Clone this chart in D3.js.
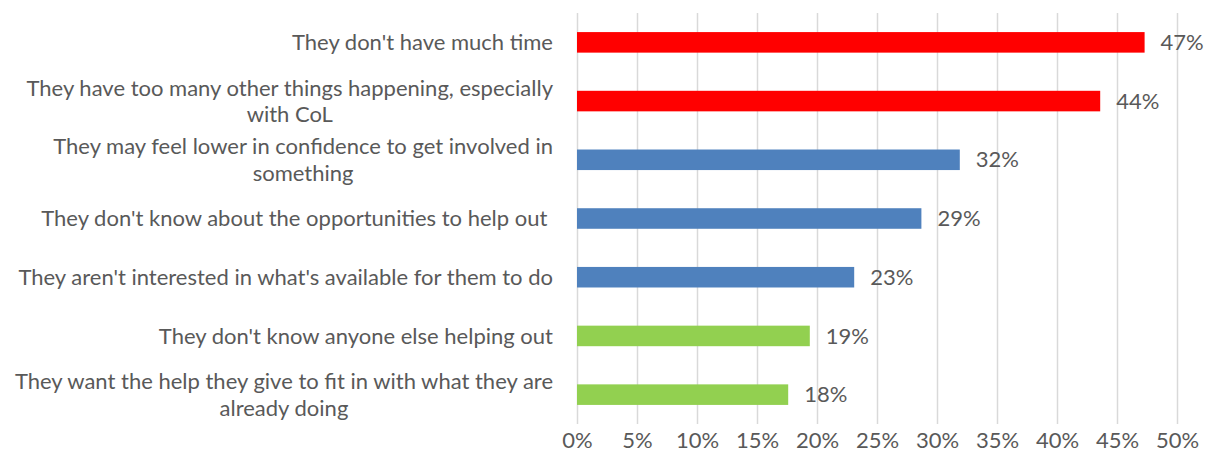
<!DOCTYPE html>
<html>
<head>
<meta charset="utf-8">
<script src="https://cdn.jsdelivr.net/npm/d3@7"></script>
<style>
  html, body { margin: 0; padding: 0; background: #ffffff; }
  svg { display: block; }
  text { font-family: Lato, "Liberation Sans", sans-serif; fill: #595959; }
</style>
</head>
<body>
<svg id="chart" width="1208" height="462"></svg>
<script>
// ---- data ----
const categories = [
  ["They don't have much time"],
  ["They have too many other things happening, especially", "with CoL"],
  ["They may feel lower in confidence to get involved in", "something"],
  ["They don't know about the opportunities to help out "],
  ["They aren't interested in what's available for them to do"],
  ["They don't know anyone else helping out"],
  ["They want the help they give to fit in with what they are", "already doing"]
];
const values = [47.3, 43.6, 31.9, 28.7, 23.1, 19.4, 17.6];
const valueLabels = ["47%", "44%", "32%", "29%", "23%", "19%", "18%"];
const barColors = ["#ff0000", "#ff0000", "#4f81bd", "#4f81bd", "#4f81bd", "#92d050", "#92d050"];
const tickValues = [0, 5, 10, 15, 20, 25, 30, 35, 40, 45, 50];

// ---- layout ----
const svg = d3.select("#chart");
const plot = { left: 577, right: 1177, top: 13, bottom: 424 };
const fontSize = 22;

const x = d3.scaleLinear().domain([0, 50]).range([plot.left, plot.right]);
const y = d3.scaleBand()
  .domain(d3.range(categories.length))
  .range([plot.top, plot.bottom])
  .paddingInner(0.65)
  .paddingOuter(0.325);

// gridlines
svg.append("g")
  .selectAll("line")
  .data(tickValues)
  .join("line")
  .attr("x1", d => Math.round(x(d)) + 0.5)
  .attr("x2", d => Math.round(x(d)) + 0.5)
  .attr("y1", plot.top)
  .attr("y2", plot.bottom)
  .attr("stroke", "#d9d9d9")
  .attr("stroke-width", 1.5);

// x axis labels
const xAxis = d3.axisBottom(x)
  .tickValues(tickValues)
  .tickFormat(d => d + "%")
  .tickSize(0)
  .tickPadding(0);
const gx = svg.append("g")
  .attr("transform", `translate(0, ${plot.bottom + 8})`)
  .call(xAxis);
gx.select(".domain").remove();
gx.selectAll("text")
  .attr("font-size", fontSize)
  .attr("font-family", "Lato, 'Liberation Sans', sans-serif")
  .attr("fill", "#595959")
  .attr("dy", "0.72em");

// bars
svg.append("g")
  .selectAll("rect")
  .data(values)
  .join("rect")
  .attr("x", x(0))
  .attr("y", (d, i) => y(i))
  .attr("width", d => x(d) - x(0))
  .attr("height", y.bandwidth())
  .attr("fill", (d, i) => barColors[i]);

// value labels
svg.append("g")
  .selectAll("text")
  .data(values)
  .join("text")
  .attr("x", d => x(d) + 16)
  .attr("y", (d, i) => y(i) + y.bandwidth() / 2)
  .attr("dy", "0.35em")
  .attr("font-size", fontSize)
  .text((d, i) => valueLabels[i]);

// category labels (right aligned block, lines centred within block)
const lineH = 26.5;
const labelRight = 553;
categories.forEach((lines, i) => {
  const cy = y(i) + y.bandwidth() / 2;
  const g = svg.append("g");
  const texts = lines.map(l => g.append("text")
    .attr("font-size", fontSize)
    .attr("xml:space", "preserve")
    .style("white-space", "pre")
    .text(l));
  const widths = texts.map(t => t.node().getComputedTextLength());
  const maxW = d3.max(widths);
  const centerX = labelRight - maxW / 2;
  const y0 = cy - (lines.length - 1) * lineH / 2;
  texts.forEach((t, k) => {
    t.attr("x", centerX)
     .attr("text-anchor", "middle")
     .attr("y", y0 + k * lineH)
     .attr("dy", "0.35em");
  });
});
</script>
</body>
</html>
